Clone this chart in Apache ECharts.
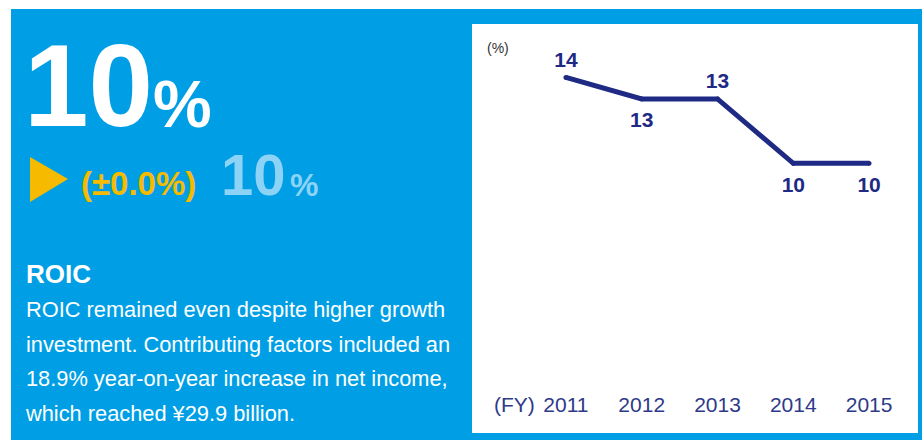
<!DOCTYPE html>
<html>
<head>
<meta charset="utf-8">
<title>ROIC</title>
<script src="https://cdn.jsdelivr.net/npm/echarts@6/dist/echarts.min.js"></script>
<style>
  html, body { margin: 0; padding: 0; background: #fff; }
  #main { width: 922px; height: 440px; }
</style>
</head>
<body>
<div id="main"></div>
<script>
// data
const years = ['2011', '2012', '2013', '2014', '2015']
const roic = [14, 13, 13, 10, 10]
const bodyLines = [
  'ROIC remained even despite higher growth',
  'investment. Contributing factors included an',
  '18.9% year-on-year increase in net income,',
  'which reached ¥29.9 billion.'
]

const BLUE = '#009fe5'
const NAVY = '#1e2a84'
const SANS = '"Liberation Sans", Arial, Helvetica, sans-serif'

// which side each value label sits on
const labelSide = ['top', 'bottom', 'top', 'bottom', 'bottom']

let chart = echarts.init(document.getElementById('main'), null, { renderer: 'svg' })

function txt (text, x, y, size, weight, color) {
  return {
    type: 'text',
    x: x,
    y: y,
    z: 1,
    style: {
      text: text,
      fill: color,
      fontSize: size,
      fontWeight: weight,
      fontFamily: SANS,
      textAlign: 'left',
      textVerticalAlign: 'middle'
    }
  }
}

let graphics = [
  // blue card + white chart panel
  { type: 'rect', z: 0, shape: { x: 11, y: 9, width: 911, height: 431 }, style: { fill: BLUE } },
  { type: 'rect', z: 0, shape: { x: 472, y: 24, width: 446, height: 409 }, style: { fill: '#fff' } },
  txt('10', 24, 86, 116, 'bold', '#fff'),
  txt('%', 153, 104, 66, 'bold', '#fff'),
  { type: 'polygon', z: 1, shape: { points: [[30, 157], [68, 179], [30, 202]] }, style: { fill: '#f6bb00' } },
  txt('(±0.0%)', 81, 183, 33, 'bold', '#f6bb00'),
  txt('10', 221, 174, 58, 'bold', '#8dd3f5'),
  txt('%', 290, 185, 32, 'bold', '#8dd3f5'),
  txt('ROIC', 26, 274, 26, 'bold', '#fff'),
  txt('(%)', 487, 48, 14, 'normal', '#333'),
  txt('(FY)', 494, 404, 21, 'normal', '#2e3a87')
]
bodyLines.forEach(function (line, i) {
  graphics.push(txt(line, 26, 309.5 + i * 34.5, 21.8, 'normal', '#fff'))
})

let option = {
  backgroundColor: '#fff',
  animation: false,
  graphic: graphics,
  grid: {
    left: 528,
    right: 15,
    top: 56,
    bottom: 62
  },
  xAxis: {
    type: 'category',
    data: years,
    axisLine: { show: false },
    axisTick: { show: false },
    axisLabel: {
      color: '#2e3a87',
      fontSize: 21,
      fontFamily: SANS,
      margin: 16
    }
  },
  yAxis: {
    type: 'value',
    min: 0,
    max: 15,
    show: false,
    splitLine: { show: false }
  },
  series: [
    {
      type: 'line',
      data: roic.map(function (v, i) {
        return {
          value: v,
          label: { position: labelSide[i], distance: labelSide[i] === 'top' ? 5 : 8 }
        }
      }),
      symbol: 'circle',
      symbolSize: 5,
      itemStyle: { color: NAVY },
      lineStyle: { color: NAVY, width: 5, join: 'miter' },
      label: {
        show: true,
        color: NAVY,
        fontSize: 21,
        fontWeight: 'bold',
        fontFamily: SANS
      },
      z: 3
    }
  ]
}

chart.setOption(option)
</script>
</body>
</html>
